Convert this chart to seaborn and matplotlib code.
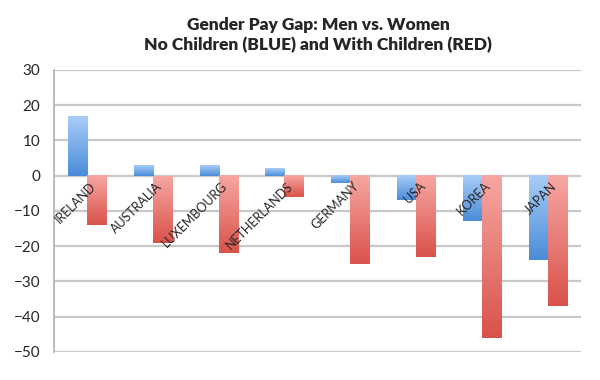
import numpy as np
import pandas as pd
import matplotlib
matplotlib.use('Agg')
import matplotlib.pyplot as plt
import seaborn as sns
from matplotlib.colors import LinearSegmentedColormap

countries = ['Ireland', 'Australia', 'Luxembourg', 'Netherlands',
             'Germany', 'USA', 'Korea', 'Japan']
no_children = [17, 3, 3, 2, -2, -7, -13, -24]
with_children = [-14, -19, -22, -6, -25, -23, -46, -37]
groups = ['No Children', 'With Children']

df = pd.DataFrame({
    'country': countries * 2,
    'gap': no_children + with_children,
    'group': [groups[0]] * len(countries) + [groups[1]] * len(countries),
})

sns.set_style('white')
plt.rcParams['font.family'] = ['Lato', 'DejaVu Sans']

fig = plt.figure(figsize=(6, 3.8), dpi=100)
ax = fig.add_axes([0.09, 0.074, 0.878, 0.742])

sns.barplot(data=df, x='country', y='gap', hue='group', order=countries,
            hue_order=groups, palette=['#6aa6e8', '#ee8580'], width=0.58,
            gap=0, saturation=1, legend=False, ax=ax, zorder=3)

# vertical gradients on the bars, light at the top, dark at the bottom
cmaps = [LinearSegmentedColormap.from_list('b', ['#4a8cd8', '#a9cdf8']),
         LinearSegmentedColormap.from_list('r', ['#d9524a', '#f7a7a2'])]
grad = np.linspace(0, 1, 256).reshape(-1, 1)
n = len(countries)
for i, p in enumerate(list(ax.patches)):
    x0, y0 = p.get_x(), p.get_y()
    w, h = p.get_width(), p.get_height()
    lo, hi = min(y0, y0 + h), max(y0, y0 + h)
    ax.imshow(grad, cmap=cmaps[i // n], aspect='auto', origin='lower',
              extent=[x0, x0 + w, lo, hi], zorder=4)
    p.set_alpha(0)

ax.set_xlim(-0.5, 7.5)
ax.set_ylim(-50, 30)
ax.set_yticks(range(-50, 31, 10))
ax.tick_params(axis='y', labelsize=11, length=0, pad=10)
ax.set_xticks([])
ax.set_xlabel('')
ax.set_ylabel('')
ax.grid(axis='y', color='#c8c8c8', linewidth=1.6, zorder=0)
for s in ['top', 'right', 'bottom']:
    ax.spines[s].set_visible(False)
ax.spines['left'].set_color('#b0b0b0')
ax.spines['left'].set_linewidth(1.2)

for i, c in enumerate(countries):
    ax.text(i + 0.04, -1.2, c.upper(), rotation=45, rotation_mode='anchor',
            ha='right', va='top', fontsize=9, zorder=6)

fig.suptitle('Gender Pay Gap: Men vs. Women\nNo Children (BLUE) and With Children (RED)',
             fontsize=12.5, fontweight='heavy', y=0.955, x=0.53, linespacing=1.25)

fig.savefig('out.png', dpi=100)
